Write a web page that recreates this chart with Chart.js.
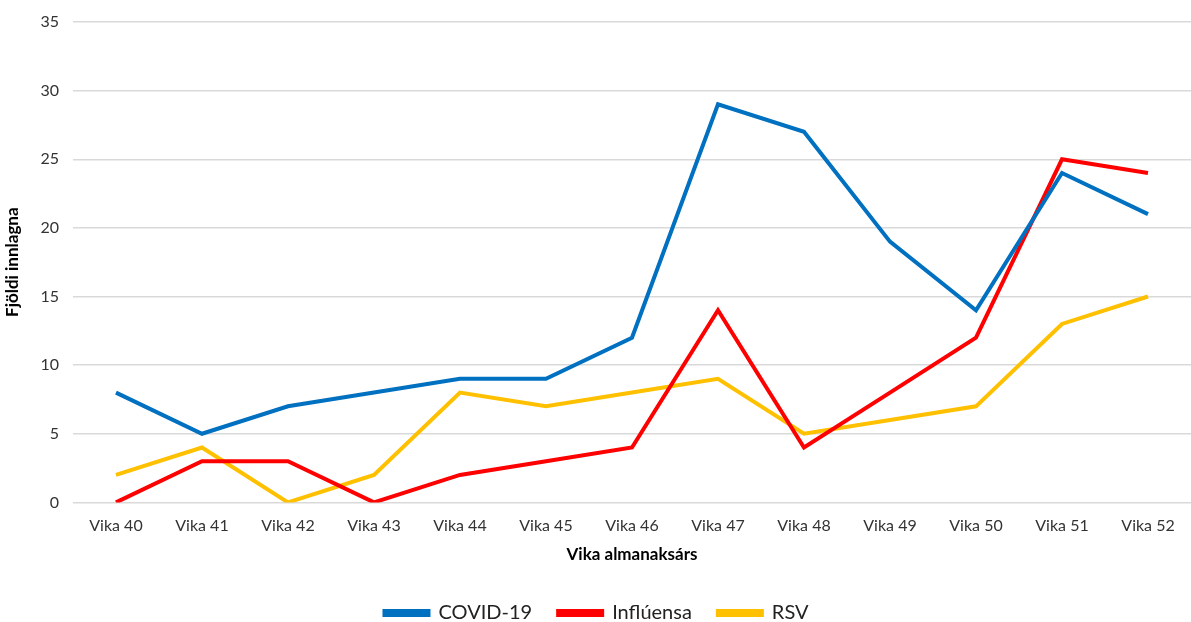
<!DOCTYPE html>
<html><head><meta charset="utf-8">
<script src="https://cdn.jsdelivr.net/npm/chart.js@4"></script>
<style>html,body{margin:0;padding:0;background:#fff;}#wrap{width:1191px;height:622px;}</style>
</head><body><div id="wrap"><canvas id="c"></canvas></div>
<script>
const categories = ["Vika 40","Vika 41","Vika 42","Vika 43","Vika 44","Vika 45","Vika 46","Vika 47","Vika 48","Vika 49","Vika 50","Vika 51","Vika 52"];
const covid = [8,5,7,8,9,9,12,29,27,19,14,24,21];
const influensa = [0,3,3,0,2,3,4,14,4,8,12,25,24];
const rsv = [2,4,0,2,8,7,8,9,5,6,7,13,15];
const FONT = "Lato, 'Open Sans', sans-serif";
new Chart(document.getElementById('c'), {
  type: 'line',
  data: {
    labels: categories,
    datasets: [
      {label:'COVID-19', data: covid, borderColor:'#0070C0', backgroundColor:'#0070C0', borderWidth:4, pointRadius:0, tension:0},
      {label:'Inflúensa', data: influensa, borderColor:'#FF0000', backgroundColor:'#FF0000', borderWidth:4, pointRadius:0, tension:0},
      {label:'RSV', data: rsv, borderColor:'#FFC000', backgroundColor:'#FFC000', borderWidth:4, pointRadius:0, tension:0}
    ]
  },
  options: {
    responsive:true, maintainAspectRatio:false, animation:false,
    layout:{padding:{left:2,right:0,top:-6,bottom:-11}},
    plugins:{
      legend:{position:'bottom', labels:{font:{family:FONT,size:20}, color:'#222', boxWidth:44, boxHeight:4, padding:26}},
      tooltip:{enabled:false}
    },
    scales:{
      x:{offset:true, grid:{display:false}, border:{display:false},
         ticks:{font:{family:FONT,size:16}, color:'#333', padding:6, maxRotation:0},
         title:{display:true, text:'Vika almanaksárs', font:{family:FONT,size:17,weight:'bold'}, color:'#000', padding:{top:3,bottom:12}}},
      y:{min:0, max:35, ticks:{stepSize:5, font:{family:FONT,size:16,lineHeight:1}, color:'#333', padding:14},
         grid:{color:'#d9d9d9', lineWidth:1.5, drawTicks:false}, border:{display:false},
         title:{display:true, text:'Fjöldi innlagna', font:{family:FONT,size:17,weight:'bold'}, color:'#000', padding:{top:0,bottom:4}}}
    }
  }
});
</script></body></html>
